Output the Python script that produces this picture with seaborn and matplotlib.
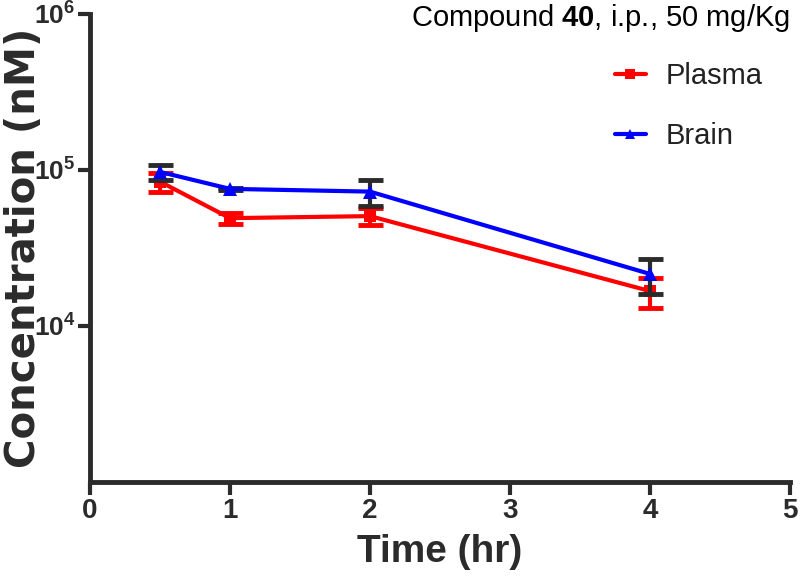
import numpy as np
import pandas as pd
import seaborn as sns
import matplotlib.pyplot as plt
from matplotlib.ticker import FixedLocator, FuncFormatter, NullLocator

# Values (mean and SD, nM)
time_hr = [0.5, 1, 2, 4]
plasma_mean = [84000, 49000, 50500, 16700]
plasma_sd = [12000, 4000, 6500, 3700]
brain_mean = [97000, 75500, 72500, 21500]
brain_sd = [11000, 1500, 14000, 5500]

series_names = ["Plasma", "Brain"]

sns.set_theme(style="ticks")
plt.rcParams['font.family'] = ['Liberation Sans', 'DejaVu Sans']
plt.rcParams['mathtext.fontset'] = 'custom'
plt.rcParams['mathtext.rm'] = 'Liberation Sans'
plt.rcParams['mathtext.bf'] = 'Liberation Sans:bold'

plasma_df = pd.DataFrame({"Time": time_hr, "Conc": plasma_mean})
brain_df = pd.DataFrame({"Time": time_hr, "Conc": brain_mean})

fig = plt.figure(figsize=(8, 5.77), dpi=100)
ax = fig.add_axes([0.1125, 0.165, 0.875, 0.811])

axis_col = "#2b2b2b"

# plasma: error bars under the line
ax.errorbar(time_hr, plasma_mean, yerr=plasma_sd, fmt="none", ecolor="#ff0000",
            elinewidth=3, capsize=9, capthick=3.5, zorder=2)
sns.lineplot(data=plasma_df, x="Time", y="Conc", color="#ff0000", marker="s",
             linewidth=3, markersize=9, markeredgewidth=0, label=series_names[0],
             ax=ax, zorder=3)
# brain: dark error bars over plasma, under brain line
ax.errorbar(time_hr, brain_mean, yerr=brain_sd, fmt="none", ecolor=axis_col,
            elinewidth=3, capsize=9, capthick=3.5, zorder=4)
sns.lineplot(data=brain_df, x="Time", y="Conc", color="#0000ff", marker="^",
             linewidth=3, markersize=10, markeredgewidth=0, label=series_names[1],
             ax=ax, zorder=5)

ax.set_yscale("log")
ax.set_ylim(1000, 1e6)
ax.set_xlim(0, 5)
ax.yaxis.set_major_locator(FixedLocator([1e4, 1e5, 1e6]))
ax.yaxis.set_minor_locator(NullLocator())
ax.yaxis.set_major_formatter(FuncFormatter(lambda v, p: r"$\mathbf{10^{%d}}$" % round(np.log10(v))))
ax.set_xticks([0, 1, 2, 3, 4, 5])

for s in ["top", "right"]:
    ax.spines[s].set_visible(False)
for s in ["left", "bottom"]:
    ax.spines[s].set_linewidth(3.5)
    ax.spines[s].set_color(axis_col)

ax.tick_params(axis="both", width=3, length=9, color=axis_col, labelcolor=axis_col, pad=3)
ax.tick_params(axis="x", labelsize=20)
ax.tick_params(axis="y", labelsize=19, pad=1.5)
for lab in ax.get_xticklabels() + ax.get_yticklabels():
    lab.set_fontweight("bold")

ax.set_xlabel("Time (hr)", fontsize=28, fontweight="bold", color=axis_col, labelpad=7)
# the y title in the reference is drawn in a wider face than the rest
ax.set_ylabel("Concentration (nM)", fontsize=29, fontweight="bold", color=axis_col,
              family=["DejaVu Sans"])
ax.yaxis.set_label_coords(-0.066, 0.5)

ax.text(1.0, 0.991, r"Compound $\mathbf{40}$, i.p., 50 mg/Kg", transform=ax.transAxes,
        ha="right", va="center", fontsize=21, color="black")

leg = ax.legend(loc="upper left", bbox_to_anchor=(0.75, 0.897), frameon=False,
                fontsize=21, labelspacing=1.1, handlelength=1.05, handletextpad=0.7,
                borderaxespad=0, borderpad=0)
for h in leg.legend_handles:
    h.set_linewidth(3)
    h.set_markersize(7)
for t in leg.get_texts():
    t.set_color("#222222")

fig.savefig("out.png", dpi=100)
